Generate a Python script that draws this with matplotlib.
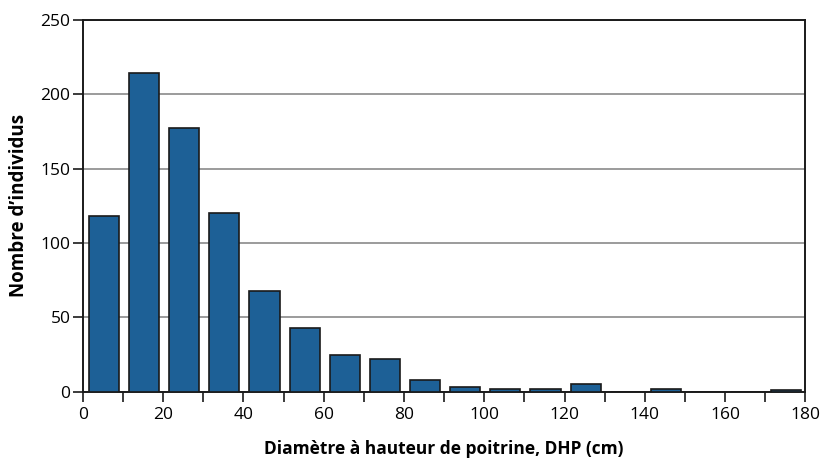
import matplotlib.pyplot as plt
import numpy as np

# Classes de DHP (limite inférieure, cm) et nombre d'individus
classes = np.arange(0, 180, 10)
counts = [118, 214, 177, 120, 68, 43, 25, 22, 8, 3, 2, 2, 5, 0, 2, 0, 0, 1]

plt.rcParams['font.family'] = ['Open Sans', 'DejaVu Sans']

fig = plt.figure(figsize=(8.21, 4.61), dpi=100)
ax = fig.add_axes([0.101, 0.150, 0.880, 0.807])

ax.bar(classes + 1.5, counts, width=7.5, align='edge',
       color='#1d6096', edgecolor='#1a1a1a', linewidth=1.2, zorder=3)

ax.set_xlim(0, 180)
ax.set_ylim(0, 250)
ax.set_xticks(np.arange(0, 181, 20))
ax.set_xticks(np.arange(0, 181, 10), minor=True)
ax.set_yticks(np.arange(0, 251, 50))
ax.yaxis.grid(True, color='#8a8a8a', linewidth=1.2, zorder=0)

ax.tick_params(axis='both', which='both', direction='out', length=7, width=1.2,
               labelsize=12.5, color='#1a1a1a')
ax.tick_params(axis='x', pad=4)
ax.tick_params(axis='y', pad=2)
for s in ax.spines.values():
    s.set_linewidth(1.4)
    s.set_color('#1a1a1a')

ax.set_xlabel('Diamètre à hauteur de poitrine, DHP (cm)', fontsize=12.5,
              fontweight='bold', labelpad=12)
ax.set_ylabel('Nombre d\u2019individus', fontsize=13.5, fontweight='bold',
              labelpad=8)

plt.savefig('out.png', dpi=100)
